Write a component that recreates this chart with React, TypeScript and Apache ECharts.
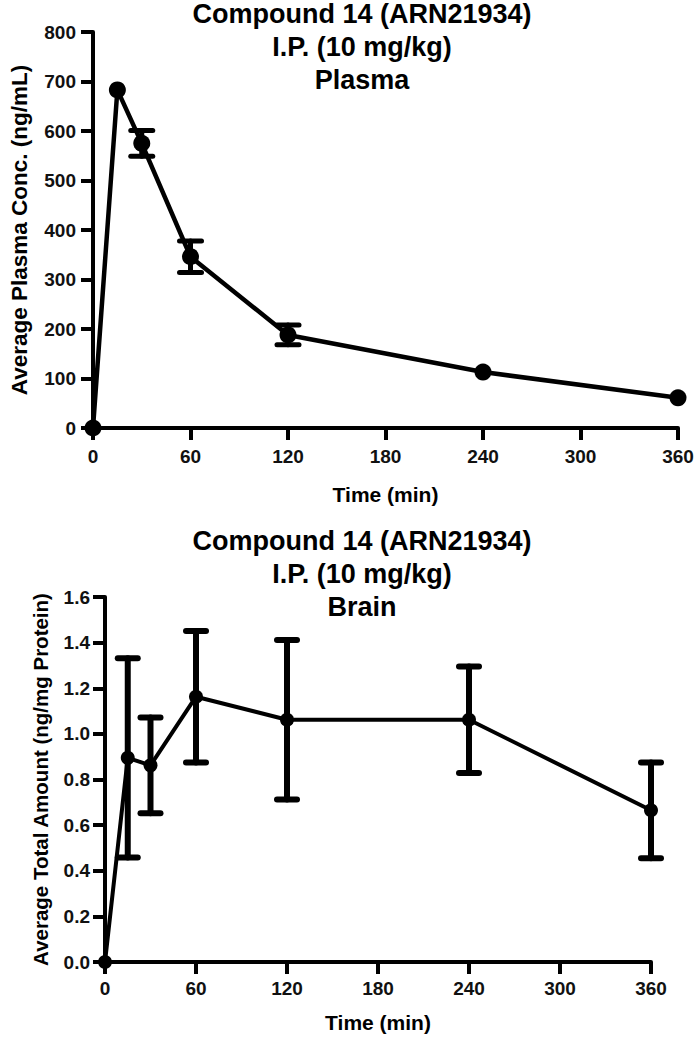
import React, { useEffect, useRef } from "react";
import * as echarts from "echarts";

const titleLines = ["Compound 14 (ARN21934)", "I.P. (10 mg/kg)"];
const plasmaTitle = "Plasma";
const brainTitle = "Brain";
const xName = "Time (min)";
const plasmaYName = "Average Plasma Conc. (ng/mL)";
const brainYName = "Average Total Amount (ng/mg Protein)";

const times = [0, 15, 30, 60, 120, 240, 360];
const plasmaMean = [0, 683, 575, 346, 188, 113, 61];
const plasmaSem = [0, 0, 26, 32, 20, 0, 0];
const brainMean = [0, 0.895, 0.862, 1.163, 1.062, 1.062, 0.665];
const brainSem = [0, 0.437, 0.21, 0.288, 0.35, 0.233, 0.21];

const FONT = "'Liberation Sans', Arial, sans-serif";

function errRenderer(capW: number, lw: number) {
  return (params: any, api: any) => {
    const x = api.value(0);
    const m = api.value(1);
    const e = api.value(2);
    if (!e) return null;
    const top = api.coord([x, m + e]);
    const bot = api.coord([x, m - e]);
    const style = { stroke: "#000", lineWidth: lw, lineCap: "round" };
    return {
      type: "group",
      children: [
        { type: "line", shape: { x1: top[0], y1: top[1], x2: bot[0], y2: bot[1] }, style },
        { type: "line", shape: { x1: top[0] - capW, y1: top[1], x2: top[0] + capW, y2: top[1] }, style },
        { type: "line", shape: { x1: bot[0] - capW, y1: bot[1], x2: bot[0] + capW, y2: bot[1] }, style },
      ],
    };
  };
}

export default function App() {
  const ref = useRef<HTMLDivElement>(null);
  useEffect(() => {
    if (!ref.current) return;
    const chart = echarts.init(ref.current, undefined, { renderer: "svg" });
    const labelStyle = { color: "#111", fontFamily: FONT, fontWeight: "bold", fontSize: 19 };
    const nameStyle = { color: "#000", fontFamily: FONT, fontWeight: "bold", fontSize: 21 };
    const axisCommon = {
      axisLine: { show: true, lineStyle: { color: "#000", width: 4 } },
      axisTick: { show: true, length: 12, lineStyle: { color: "#000", width: 4 } },
      splitLine: { show: false },
    };
    const titleStyle = { color: "#000", fontFamily: FONT, fontWeight: "bold", fontSize: 27, lineHeight: 33 };
    chart.setOption({
      animation: false,
      backgroundColor: "#fff",
      title: [
        { text: [...titleLines, plasmaTitle].join("\n"), left: 362, top: -3, textAlign: "center", textStyle: titleStyle, padding: 0 },
        { text: [...titleLines, brainTitle].join("\n"), left: 362, top: 524, textAlign: "center", textStyle: titleStyle, padding: 0 },
      ],
      grid: [
        { left: 87, top: 32, width: 591, height: 396 },
        { left: 105, top: 597, width: 546, height: 365 },
      ],
      xAxis: [
        {
          gridIndex: 0, type: "value", min: 0, max: 360, interval: 60,
          name: xName, nameLocation: "middle", nameGap: 56, nameTextStyle: nameStyle,
          axisLabel: { ...labelStyle, margin: 19 }, ...axisCommon,
        },
        {
          gridIndex: 1, type: "value", min: 0, max: 360, interval: 60,
          name: xName, nameLocation: "middle", nameGap: 50, nameTextStyle: nameStyle,
          axisLabel: { ...labelStyle, margin: 17 }, ...axisCommon,
        },
      ],
      yAxis: [
        {
          gridIndex: 0, type: "value", min: 0, max: 800, interval: 100,
          name: plasmaYName, nameLocation: "middle", nameGap: 62, nameTextStyle: { ...nameStyle, fontSize: 22.5 },
          axisLabel: { ...labelStyle, margin: 17 }, ...axisCommon,
        },
        {
          gridIndex: 1, type: "value", min: 0, max: 1.6, interval: 0.2,
          name: brainYName, nameLocation: "middle", nameGap: 54, nameTextStyle: { ...nameStyle, fontSize: 20.5 },
          axisLabel: { ...labelStyle, margin: 15, formatter: (v: number) => v.toFixed(1) }, ...axisCommon,
        },
      ],
      series: [
        {
          type: "custom", xAxisIndex: 0, yAxisIndex: 0,
          renderItem: errRenderer(11, 5),
          data: times.map((t, i) => [t, plasmaMean[i], plasmaSem[i]]),
          encode: { x: 0, y: 1 }, z: 3,
        },
        {
          type: "line", xAxisIndex: 0, yAxisIndex: 0,
          data: times.map((t, i) => [t, plasmaMean[i]]),
          symbol: "circle", symbolSize: 17, clip: false,
          lineStyle: { color: "#000", width: 4.5 }, itemStyle: { color: "#000" }, z: 4,
        },
        {
          type: "custom", xAxisIndex: 1, yAxisIndex: 1,
          renderItem: errRenderer(10, 6),
          data: times.map((t, i) => [t, brainMean[i], brainSem[i]]),
          encode: { x: 0, y: 1 }, z: 3,
        },
        {
          type: "line", xAxisIndex: 1, yAxisIndex: 1,
          data: times.map((t, i) => [t, brainMean[i]]),
          symbol: "circle", symbolSize: 14, clip: false,
          lineStyle: { color: "#000", width: 4 }, itemStyle: { color: "#000" }, z: 4,
        },
      ],
    });
    return () => chart.dispose();
  }, []);
  return <div ref={ref} style={{ width: 700, height: 1037, position: "absolute", left: 0, top: 0 }} />;
}
